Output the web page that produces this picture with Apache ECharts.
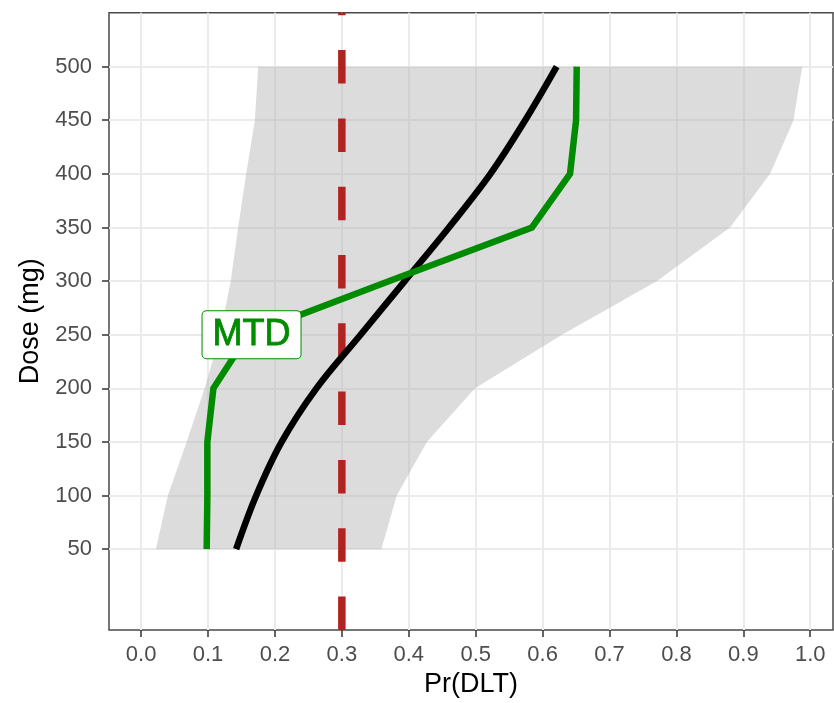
<!DOCTYPE html>
<html>
<head>
<meta charset="utf-8">
<script src="https://cdn.jsdelivr.net/npm/echarts@6.0.0/dist/echarts.min.js"></script>
<style>
  html, body { margin: 0; padding: 0; background: #ffffff; }
  #chart { width: 834px; height: 703px; }
</style>
</head>
<body>
<div id="chart"></div>
<script>
// ---- data ----
const doses        = [50, 100, 150, 200, 250, 300, 350, 400, 450, 500];
const ribbonLower  = [0.022, 0.040, 0.068, 0.095, 0.118, 0.134, 0.145, 0.157, 0.170, 0.175];
const ribbonUpper  = [0.359, 0.382, 0.427, 0.499, 0.629, 0.771, 0.880, 0.940, 0.975, 0.988];
const meanProb     = [0.142, 0.172, 0.210, 0.262, 0.328, 0.394, 0.460, 0.522, 0.574, 0.621];
const mtdProb      = [0.098, 0.099, 0.099, 0.108, 0.160, 0.371, 0.584, 0.641, 0.650, 0.651];
const targetTox    = 0.3;
const mtdLabelText = 'MTD';
const mtdLabelAt   = [0.165, 250];
const xTicks       = [0.0, 0.1, 0.2, 0.3, 0.4, 0.5, 0.6, 0.7, 0.8, 0.9, 1.0];
const yTicks       = [50, 100, 150, 200, 250, 300, 350, 400, 450, 500];
const xRange       = [-0.048, 1.034];
const yRange       = [-25.4, 550.3];

const GREEN = '#008B00';
const FONT = 'Liberation Sans, Arial, Helvetica, sans-serif';

const chart = echarts.init(document.getElementById('chart'), null, { renderer: 'canvas' });

const ribbonSeries = {
  type: 'custom',
  z: 1,
  silent: true,
  clip: true,
  data: doses.map((d, i) => [ribbonLower[i], d]),
  renderItem: function (params, api) {
    if (params.dataIndex !== 0) return null;
    const pts = [];
    for (let i = 0; i < doses.length; i++) pts.push(api.coord([ribbonLower[i], doses[i]]));
    for (let i = doses.length - 1; i >= 0; i--) pts.push(api.coord([ribbonUpper[i], doses[i]]));
    return {
      type: 'polygon',
      shape: { points: pts },
      style: { fill: 'rgba(178,178,178,0.45)', stroke: null }
    };
  }
};

const option = {
  animation: false,
  backgroundColor: '#ffffff',
  grid: {
    left: 109, right: 1, top: 12.7, bottom: 72,
    show: true, borderColor: '#4a4a4a', borderWidth: 1.5, backgroundColor: 'transparent'
  },
  xAxis: {
    type: 'value',
    min: xRange[0], max: xRange[1],
    name: 'Pr(DLT)',
    nameLocation: 'middle',
    nameGap: 41,
    nameTextStyle: { fontSize: 27, color: '#000', fontFamily: FONT },
    axisLine: { show: false, onZero: false },
    axisTick: { show: true, customValues: xTicks, length: 7, lineStyle: { color: '#333', width: 1.5 } },
    axisLabel: {
      customValues: xTicks, margin: 14, fontSize: 22, color: '#4d4d4d', fontFamily: FONT,
      formatter: v => Number(v).toFixed(1)
    },
    splitLine: { show: true, lineStyle: { color: '#ebebeb', width: 2 } }
  },
  yAxis: {
    type: 'value',
    min: yRange[0], max: yRange[1],
    name: 'Dose (mg)',
    nameLocation: 'middle',
    nameGap: 62,
    nameTextStyle: { fontSize: 27, color: '#000', fontFamily: FONT },
    axisLine: { show: false, onZero: false },
    axisTick: { show: true, customValues: yTicks, length: 7, lineStyle: { color: '#333', width: 1.5 } },
    axisLabel: { customValues: yTicks, margin: 17, fontSize: 22, color: '#4d4d4d', fontFamily: FONT },
    splitLine: { show: true, lineStyle: { color: '#ebebeb', width: 2 } }
  },
  series: [
    ribbonSeries,
    {
      type: 'line', z: 2, silent: true, symbol: 'none',
      data: [[targetTox, yRange[0]], [targetTox, yRange[1]]],
      lineStyle: { color: '#B22222', width: 7.5, type: [33.5, 34.8], cap: 'butt' }
    },
    {
      type: 'line', z: 3, silent: true, symbol: 'none', smooth: 0.35,
      data: doses.map((d, i) => [meanProb[i], d]),
      lineStyle: { color: '#000', width: 6.5, cap: 'butt' }
    },
    {
      type: 'line', z: 4, silent: true, symbol: 'none',
      data: doses.map((d, i) => [mtdProb[i], d]),
      lineStyle: { color: GREEN, width: 6.5, join: 'miter' }
    },
    {
      type: 'scatter', z: 5, silent: true, symbolSize: 0,
      itemStyle: { opacity: 1, color: GREEN },
      data: [mtdLabelAt],
      label: {
        show: true, position: 'inside', formatter: mtdLabelText,
        fontSize: 36, color: GREEN, fontFamily: FONT, lineHeight: 36, opacity: 1,
        textBorderWidth: 0.8, textBorderColor: GREEN,
        backgroundColor: '#ffffff', borderColor: GREEN, borderWidth: 1, borderRadius: 4,
        padding: [6, 10, 5, 10]
      }
    }
  ]
};
chart.setOption(option);
</script>
</body>
</html>
